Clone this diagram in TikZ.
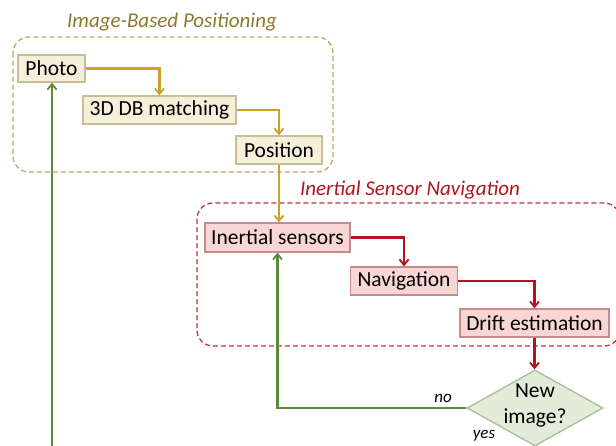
\documentclass[tikz,border=0pt]{standalone}
\usepackage{fontspec}
\setmainfont{Carlito}
\usetikzlibrary{arrows.meta,shapes.geometric}
\definecolor{gold}{HTML}{C9A227}
\definecolor{olivetxt}{HTML}{8B7A2E}
\definecolor{ybox}{HTML}{F6F0DA}
\definecolor{yedge}{HTML}{C8BE95}
\definecolor{ygrp}{HTML}{BFA95A}
\definecolor{redl}{HTML}{B3141C}
\definecolor{rbox}{HTML}{F8D6D6}
\definecolor{redge}{HTML}{C58A8A}
\definecolor{rgrp}{HTML}{C0393F}
\definecolor{greenl}{HTML}{5B8C3A}
\definecolor{gbox}{HTML}{E2ECD9}
\definecolor{gedge}{HTML}{A8BD98}
\begin{document}
\begin{tikzpicture}[x=1pt,y=-1pt,
  boxtxt/.style={font=\fontsize{21.5}{25}\selectfont, inner sep=0pt, align=center},
  ybx/.style={boxtxt, draw=yedge, fill=ybox, line width=1.3pt},
  rbx/.style={boxtxt, draw=redge, fill=rbox, line width=1.3pt},
  grp/.style={line width=1.3pt, rounded corners=16pt, dash pattern=on 5pt off 3pt},
  ttl/.style={font=\fontsize{21}{24}\selectfont\itshape, inner sep=0pt},
  tip/.style={-{Straight Barb[length=5.5pt,width=9pt,line width=1.8pt]}},
  yarr/.style={tip, draw=gold, line width=2.2pt},
  rarr/.style={tip, draw=redl, line width=2.2pt},
  garr/.style={tip, draw=greenl, line width=2.2pt},
  small/.style={font=\fontsize{17}{20}\selectfont\itshape, inner sep=0pt}
]
\clip (0,0) rectangle (616,445);
\fill[white] (0,0) rectangle (616,445);

% group frames
\draw[grp, draw=ygrp] (13,37) rectangle (333,172);
\draw[grp, draw=rgrp] (197,203) rectangle (620,346);
\node[ttl, text=olivetxt] (t1) at (172,22) {Image-Based Positioning};
\node[ttl, text=redl] (t2) at (410,190) {Inertial Sensor Navigation};

% boxes
\node[ybx, minimum width=67pt, minimum height=27pt] (photo) at (51.5,68.5) {Photo};
\node[ybx, minimum width=153pt, minimum height=28pt] (db) at (159.5,110) {3D DB matching};
\node[ybx, minimum width=86pt, minimum height=28pt] (pos) at (279,150) {Position};
\node[rbx, minimum width=145pt, minimum height=29pt] (ins) at (277.5,237.5) {Inertial sensors};
\node[rbx, minimum width=107pt, minimum height=28pt] (nav) at (404,281) {Navigation};
\node[rbx, minimum width=149pt, minimum height=28pt] (drift) at (534.5,323) {Drift estimation};
\node[diamond, draw=gedge, fill=gbox, line width=1.3pt, inner sep=0pt,
      minimum width=136pt, minimum height=76pt, aspect=1.79] (dec) at (535,408) {};
\node[boxtxt, font=\fontsize{21.5}{26}\selectfont] (dectxt) at (535,405) {New\\image?};

% connectors
\draw[yarr] (photo.east) -| (db.north);
\draw[yarr] (db.east) -| (pos.north);
\draw[yarr] (pos.south) -- (pos.south |- ins.north);
\draw[rarr] (ins.east) -| (nav.north);
\draw[rarr] (nav.east) -| (drift.north);
\draw[rarr] (drift.south) -- (drift.south |- dec.north);
\draw[garr] (dec.west) -| (ins.south);
\coordinate (gstart) at (52,450);
\draw[garr] (gstart) -- (gstart |- photo.south);

\node[small] (no) at (443,398) {no};
\node[small] (yes) at (484,436) {yes};
\end{tikzpicture}
\end{document}
